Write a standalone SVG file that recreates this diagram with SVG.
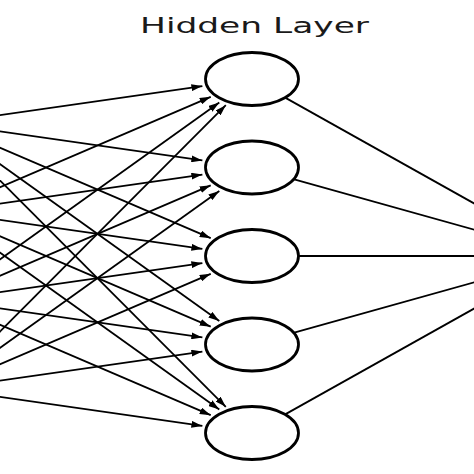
<svg xmlns="http://www.w3.org/2000/svg" width="474" height="474" viewBox="0 0 474 474">
<style>
.node{fill:#fff;stroke:#000;stroke-width:2.8}
.in{stroke:#000;stroke-width:1.8;fill:none;marker-end:url(#ah)}
.out{stroke:#000;stroke-width:1.8;fill:none}
.title{font-family:"DejaVu Sans",Verdana,sans-serif;font-size:21px;fill:#1a1a1a}
</style>
<defs>
<marker id="ah" viewBox="0 0 11 7" refX="11" refY="3.5" markerWidth="11" markerHeight="7" markerUnits="userSpaceOnUse" orient="auto">
<path d="M0,0 L11,3.5 L0,7 Z" fill="#000"/>
</marker>
</defs>
<rect width="474" height="474" fill="#fff"/>
<text class="title" x="140" y="33" textLength="229" lengthAdjust="spacingAndGlyphs">Hidden Layer</text>
<g id="connectors">
<line class="in" x1="-57" y1="123.25" x2="202.4" y2="86.1"/>
<line class="in" x1="-57" y1="123.25" x2="202.4" y2="160.4"/>
<line class="in" x1="-57" y1="123.25" x2="210.7" y2="238.2"/>
<line class="in" x1="-57" y1="123.25" x2="219.3" y2="321.1"/>
<line class="in" x1="-57" y1="123.25" x2="225.8" y2="406.8"/>
<line class="in" x1="-57" y1="211.75" x2="210.7" y2="96.8"/>
<line class="in" x1="-57" y1="211.75" x2="202.4" y2="174.6"/>
<line class="in" x1="-57" y1="211.75" x2="202.4" y2="248.9"/>
<line class="in" x1="-57" y1="211.75" x2="210.7" y2="326.7"/>
<line class="in" x1="-57" y1="211.75" x2="219.3" y2="409.6"/>
<line class="in" x1="-57" y1="300.25" x2="219.3" y2="102.4"/>
<line class="in" x1="-57" y1="300.25" x2="210.7" y2="185.3"/>
<line class="in" x1="-57" y1="300.25" x2="202.4" y2="263.1"/>
<line class="in" x1="-57" y1="300.25" x2="202.4" y2="337.4"/>
<line class="in" x1="-57" y1="300.25" x2="210.7" y2="415.2"/>
<line class="in" x1="-57" y1="388.75" x2="225.8" y2="105.2"/>
<line class="in" x1="-57" y1="388.75" x2="219.3" y2="190.9"/>
<line class="in" x1="-57" y1="388.75" x2="210.7" y2="273.8"/>
<line class="in" x1="-57" y1="388.75" x2="202.4" y2="351.6"/>
<line class="in" x1="-57" y1="388.75" x2="202.4" y2="425.9"/>
<line class="out" x1="285.6" y1="97.9" x2="568" y2="256"/>
<line class="out" x1="294.2" y1="179.3" x2="568" y2="256"/>
<line class="out" x1="299" y1="256" x2="568" y2="256"/>
<line class="out" x1="294.2" y1="332.7" x2="568" y2="256"/>
<line class="out" x1="285.6" y1="414.1" x2="568" y2="256"/>
</g>
<g id="h1"><ellipse class="node" cx="252" cy="79" rx="46.5" ry="26.5"/></g>
<g id="h2"><ellipse class="node" cx="252" cy="167.5" rx="46.5" ry="26.5"/></g>
<g id="h3"><ellipse class="node" cx="252" cy="256" rx="46.5" ry="26.5"/></g>
<g id="h4"><ellipse class="node" cx="252" cy="344.5" rx="46.5" ry="26.5"/></g>
<g id="h5"><ellipse class="node" cx="252" cy="433" rx="46.5" ry="26.5"/></g>
</svg>
